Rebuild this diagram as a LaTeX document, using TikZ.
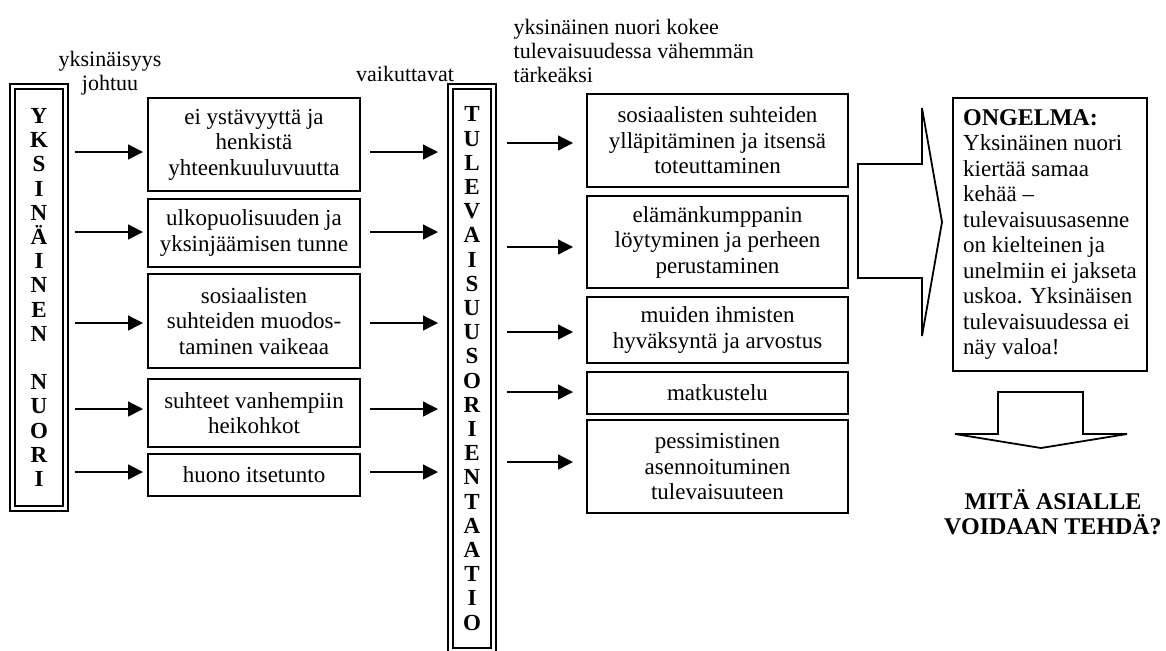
\documentclass[tikz,border=0pt]{standalone}
\usepackage{fontspec}
\setmainfont{Liberation Serif}
\usetikzlibrary{arrows.meta, positioning}

\begin{document}
\begin{tikzpicture}[
    x=0.5pt, y=-0.5pt,
    every node/.style={font=\fontsize{11.5}{12.75}\selectfont, outer sep=0pt},
    arrow/.style={-{Triangle[length=7.5pt, width=7.5pt]}, line width=0.7pt},
    note/.style={align=center, font=\fontsize{11}{12}\selectfont},
    cause/.style={draw, line width=0.9pt, align=center, inner sep=2pt, minimum width=106pt},
    effect/.style={draw, line width=0.9pt, align=center, inner sep=2pt, minimum width=130.5pt},
    pillar/.style={draw, line width=1pt, double, double distance=1.5pt, align=center, inner sep=1pt, font=\bfseries\fontsize{11.5}{12.1}\selectfont},
    title/.style={font=\bfseries\fontsize{12}{12.5}\selectfont, align=center}
]
\useasboundingbox (0,0) rectangle (1166,650);

% ============ YKSINÄINEN NUORI ============
\node[pillar, minimum width=26.5pt, minimum height=211pt] (yk) at (39, 297.5)
    {Y\\K\\S\\I\\N\\Ä\\I\\N\\E\\N\\[12.1pt]N\\U\\O\\R\\I};
\node[note] (johtuu) at (110, 73.5) {yksinäisyys\\johtuu};

% Causes
\node[cause, minimum height=46.5pt] (c1) at (254, 144.5) {ei ystävyyttä ja\\henkistä\\yhteenkuuluvuutta};
\node[cause, minimum height=34pt] (c2) at (254, 233) {ulkopuolisuuden ja\\yksinjäämisen tunne};
\node[cause, minimum height=47pt] (c3) at (254, 321) {sosiaalisten\\suhteiden muodos-\\taminen vaikeaa};
\node[cause, minimum height=34pt] (c4) at (254, 413) {suhteet vanhempiin\\heikohkot};
\node[cause, minimum height=21pt] (c5) at (254, 475) {huono itsetunto};

% ============ TULEVAISUUSORIENTAATIO ============
\node[pillar, minimum width=21.5pt, minimum height=282pt] (tul) at (472, 368.5)
    {T\\U\\L\\E\\V\\A\\I\\S\\U\\U\\S\\O\\R\\I\\E\\N\\T\\A\\A\\T\\I\\O};
\node[note] (vaikuttavat) at (405, 74) {vaikuttavat};
\node[note, anchor=west, align=left] (kokee) at (507, 51) {yksinäinen nuori kokee\\tulevaisuudessa vähemmän\\tärkeäksi};

% Effects
\node[effect, minimum height=46.5pt] (e1) at (717.5, 140.5) {sosiaalisten suhteiden\\ylläpitäminen ja itsensä\\toteuttaminen};
\node[effect, minimum height=46pt] (e2) at (717.5, 242) {elämänkumppanin\\löytyminen ja perheen\\perustaminen};
\node[effect, minimum height=33pt] (e3) at (717.5, 330) {muiden ihmisten\\hyväksyntä ja arvostus};
\node[effect, minimum height=21pt] (e4) at (717.5, 393) {matkustelu};
\node[effect, minimum height=46.5pt] (e5) at (717.5, 466.5) {pessimistinen\\asennoituminen\\tulevaisuuteen};

% Arrows (dy = offset from the box middle, in px downwards)
\foreach \i/\dy in {1/7.5, 2/-1, 3/2, 4/-4, 5/-3} {
    \draw[arrow, shorten <=4.75pt, shorten >=2.5pt] ([yshift=-\dy*0.5pt]yk.east |- c\i.west) -- ([yshift=-\dy*0.5pt]c\i.west);
    \draw[arrow, shorten <=5pt, shorten >=6.25pt] ([yshift=-\dy*0.5pt]c\i.east) -- ([yshift=-\dy*0.5pt]tul.west |- c\i.east);
}
\foreach \i/\dy in {1/2.5, 2/5, 3/2, 4/-1, 5/-4.5} {
    \draw[arrow, shorten <=6.75pt, shorten >=7pt] ([yshift=-\dy*0.5pt]tul.east |- e\i.west) -- ([yshift=-\dy*0.5pt]e\i.west);
}

% ============ ONGELMA ============
\draw[line width=0.9pt] (858,164) -- (922,164) -- (922,108) -- (942,222) -- (922,336) -- (922,278) -- (858,278) -- cycle;

\node[draw, line width=0.9pt, minimum width=97pt, minimum height=136.5pt, align=left] (ongelma) at (1050, 234.5)
    {{\bfseries\fontsize{12}{12.75}\selectfont ONGELMA:}\\Yksinäinen nuori\\kiertää samaa\\kehää –\\tulevaisuusasenne\\on kielteinen ja\\unelmiin ei jakseta\\uskoa. Yksinäisen\\tulevaisuudessa ei\\näy valoa!};

\draw[line width=0.9pt] (998,434) -- (998,392) -- (1083,392) -- (1083,434) -- (1127,434) -- (1041,448) -- (955,434) -- cycle;

\node[title] (kysymys) at (1053, 512.5) {MITÄ ASIALLE\\VOIDAAN TEHDÄ?};

\end{tikzpicture}
\end{document}
